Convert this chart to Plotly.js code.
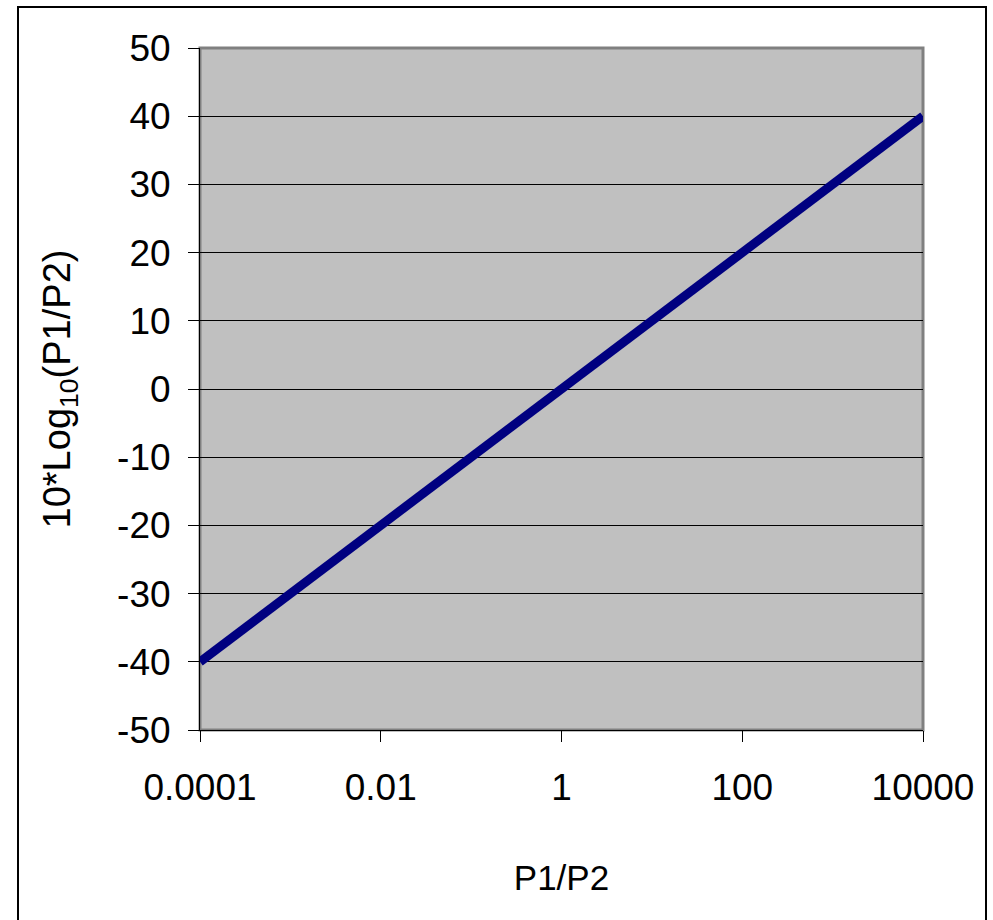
<!DOCTYPE html>
<html>
<head>
<meta charset="utf-8">
<script src="https://cdn.plot.ly/plotly-3.0.1.min.js"></script>
<style>
html,body{margin:0;padding:0;background:#fff;}
#wrap{position:relative;width:993px;height:920px;overflow:hidden;}
#chart{position:absolute;left:0;top:0;width:993px;height:920px;}
#frame{position:absolute;left:17px;top:6px;width:966px;height:940px;border:2px solid #000;pointer-events:none;}
</style>
</head>
<body>
<div id="wrap">
<div id="chart"></div>
<div id="frame"></div>
</div>
<script>
// Data
var ratio = [0.0001, 0.001, 0.01, 0.1, 0.5, 1, 10, 100, 1000, 10000];
var dB = [-40, -30, -20, -10, -3.01, 0, 10, 20, 30, 40];
var xTickVals = [0.0001, 0.01, 1, 100, 10000];
var xTickText = ["0.0001", "0.01", "1", "100", "10000"];
var yTickVals = [-50, -40, -30, -20, -10, 0, 10, 20, 30, 40, 50];
var yTickText = ["-50", "-40", "-30", "-20", "-10", "0", "10", "20", "30", "40", "50"];

var FONT = "Liberation Sans, Arial, sans-serif";

var trace = {
  x: ratio,
  y: dB,
  type: "scatter",
  mode: "lines",
  line: {color: "#000080", width: 9},
  hoverinfo: "skip"
};

var layout = {
  width: 993,
  height: 920,
  margin: {l: 200, r: 70, t: 48, b: 190},
  paper_bgcolor: "rgba(0,0,0,0)",
  plot_bgcolor: "#c0c0c0",
  showlegend: false,
  font: {family: FONT, color: "#000", size: 37},
  xaxis: {
    type: "log",
    range: [-4, 4],
    tickvals: xTickVals,
    ticktext: xTickText,
    ticks: "outside",
    ticklen: 11,
    tickwidth: 1,
    tickcolor: "#000",
    ticklabelstandoff: 14,
    showline: true,
    linecolor: "#000",
    linewidth: 1,
    showgrid: false,
    zeroline: false,
    tickfont: {family: FONT, size: 37, color: "#000"},
    title: {text: "P1/P2", font: {family: FONT, size: 35, color: "#000"}, standoff: 58},
    automargin: false
  },
  yaxis: {
    range: [-50, 50],
    tickvals: yTickVals,
    ticktext: yTickText,
    ticks: "outside",
    ticklen: 11,
    tickwidth: 1,
    tickcolor: "#000",
    ticklabelstandoff: 10,
    showline: true,
    linecolor: "#000",
    linewidth: 1,
    showgrid: true,
    gridcolor: "#000",
    gridwidth: 1,
    zeroline: false,
    tickfont: {family: FONT, size: 37, color: "#000"},
    title: {text: "10*Log<sub>10</sub>(P1/P2)", font: {family: FONT, size: 38, color: "#000"}, standoff: 34},
    automargin: false
  },
  shapes: [{
    type: "rect", xref: "paper", yref: "paper", x0: 0, x1: 1, y0: 0, y1: 1,
    line: {color: "#808080", width: 3}, layer: "below"
  }]
};

Plotly.newPlot("chart", [trace], layout, {displayModeBar: false, staticPlot: true});
</script>
</body>
</html>
